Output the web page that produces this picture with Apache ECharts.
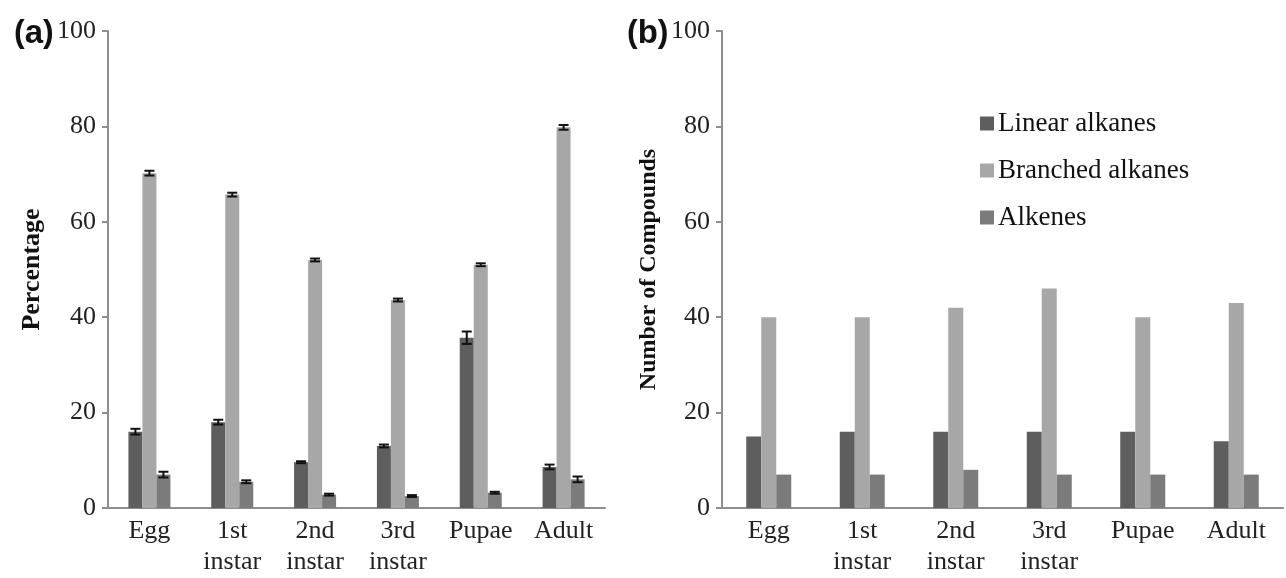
<!DOCTYPE html>
<html>
<head>
<meta charset="utf-8">
<script src="https://cdn.jsdelivr.net/npm/echarts@6/dist/echarts.min.js"></script>
<style>
  html, body { margin: 0; padding: 0; background: #fff; }
  #chart { width: 1286px; height: 578px; }
</style>
</head>
<body>
<div id="chart"></div>
<script>
// Stages and series
const stages = ["Egg", "1st\ninstar", "2nd\ninstar", "3rd\ninstar", "Pupae", "Adult"];
const seriesNames = ["Linear alkanes", "Branched alkanes", "Alkenes"];

// (a) percentage, with standard errors
const pctLinear = [16, 18, 9.6, 13, 35.7, 8.6];
const pctBranched = [70.2, 65.7, 52, 43.6, 51, 79.8];
const pctAlkenes = [7, 5.5, 2.8, 2.5, 3.2, 6];
const errLinear = [0.6, 0.5, 0.2, 0.3, 1.3, 0.5];
const errBranched = [0.5, 0.4, 0.3, 0.3, 0.3, 0.5];
const errAlkenes = [0.6, 0.3, 0.2, 0.2, 0.2, 0.6];

// (b) number of compounds
const numLinear = [15, 16, 16, 16, 16, 14];
const numBranched = [40, 40, 42, 46, 40, 43];
const numAlkenes = [7, 7, 8, 7, 7, 7];

const yTicks = [0, 20, 40, 60, 80, 100];

const colors = ["#5e5e5e", "#a7a7a7", "#7b7b7b"];
const font = "Liberation Serif";
const axisGrey = "#8e8e8e";
const barW = 14;
const barWb = 15;

function errData(vals, errs) {
  return vals.map((v, i) => [i, v - errs[i], v + errs[i]]);
}

function errSeries(vals, errs, idx) {
  return {
    type: "custom",
    xAxisIndex: 0,
    yAxisIndex: 0,
    z: 5,
    encode: { x: 0, y: [1, 2] },
    data: errData(vals, errs),
    renderItem: (params, api) => {
      const off = (idx - 1) * barW;
      const lo = api.coord([api.value(0), api.value(1)]);
      const hi = api.coord([api.value(0), api.value(2)]);
      const x = lo[0] + off;
      const cap = 5;
      const style = { stroke: "#111", lineWidth: 2 };
      return {
        type: "group",
        children: [
          { type: "line", shape: { x1: x, y1: lo[1], x2: x, y2: hi[1] }, style },
          { type: "line", shape: { x1: x - cap, y1: lo[1], x2: x + cap, y2: lo[1] }, style },
          { type: "line", shape: { x1: x - cap, y1: hi[1], x2: x + cap, y2: hi[1] }, style }
        ]
      };
    }
  };
}

function xAxisCfg(grid) {
  return {
    type: "category",
    gridIndex: grid,
    data: stages,
    axisLine: { lineStyle: { color: axisGrey, width: 2 } },
    axisTick: { show: false },
    axisLabel: { fontFamily: font, fontSize: 26, color: "#222", lineHeight: 31, margin: 8, interval: 0 }
  };
}

function yAxisCfg(grid, name, nameSize, gap) {
  return {
    type: "value",
    gridIndex: grid,
    min: 0,
    max: 100,
    interval: 20,
    name: name,
    nameLocation: "middle",
    nameGap: gap,
    nameTextStyle: { fontFamily: font, fontSize: nameSize, fontWeight: "bold", color: "#111" },
    axisLine: { show: true, lineStyle: { color: axisGrey, width: 2 } },
    axisTick: { show: true, length: 6, lineStyle: { color: axisGrey, width: 2 } },
    axisLabel: {
      fontFamily: font, fontSize: 26, color: "#222", margin: 12,
      formatter: (v) => yTicks.includes(v) ? String(v) : ""
    },
    splitLine: { show: false }
  };
}

const panelTitle = (letter, left) => ({
  text: "{p|(}{a|" + letter + "}{p|)}", left: left, top: 12,
  textStyle: {
    rich: {
      p: { fontFamily: "Liberation Sans", fontSize: 32, color: "#111" },
      a: { fontFamily: "Liberation Sans", fontWeight: "bold", fontSize: 33, color: "#111" }
    }
  }
});

const option = {
  animation: false,
  backgroundColor: "#fff",
  title: [panelTitle("a", 9), panelTitle("b", 622)],
  legend: {
    orient: "vertical",
    left: 975,
    top: 105,
    itemWidth: 14,
    itemHeight: 14,
    itemGap: 20,
    icon: "rect",
    data: seriesNames,
    textStyle: { fontFamily: font, fontSize: 27, color: "#111", padding: [0, 0, 0, -1] }
  },
  grid: [
    { left: 108, top: 31, width: 497, height: 478 },
    { left: 722, top: 31, width: 561, height: 479 }
  ],
  xAxis: [xAxisCfg(0), xAxisCfg(1)],
  yAxis: [yAxisCfg(0, "Percentage", 26, 63), yAxisCfg(1, "Number of Compounds", 24, 61)],
  series: [
    { name: seriesNames[0], type: "bar", xAxisIndex: 0, yAxisIndex: 0, data: pctLinear, barWidth: barW, barGap: "0%", itemStyle: { color: colors[0] } },
    { name: seriesNames[1], type: "bar", xAxisIndex: 0, yAxisIndex: 0, data: pctBranched, barWidth: barW, barGap: "0%", itemStyle: { color: colors[1] } },
    { name: seriesNames[2], type: "bar", xAxisIndex: 0, yAxisIndex: 0, data: pctAlkenes, barWidth: barW, barGap: "0%", itemStyle: { color: colors[2] } },
    errSeries(pctLinear, errLinear, 0),
    errSeries(pctBranched, errBranched, 1),
    errSeries(pctAlkenes, errAlkenes, 2),
    { name: seriesNames[0], type: "bar", xAxisIndex: 1, yAxisIndex: 1, data: numLinear, barWidth: barWb, barGap: "0%", itemStyle: { color: colors[0] } },
    { name: seriesNames[1], type: "bar", xAxisIndex: 1, yAxisIndex: 1, data: numBranched, barWidth: barWb, barGap: "0%", itemStyle: { color: colors[1] } },
    { name: seriesNames[2], type: "bar", xAxisIndex: 1, yAxisIndex: 1, data: numAlkenes, barWidth: barWb, barGap: "0%", itemStyle: { color: colors[2] } }
  ]
};

const chart = echarts.init(document.getElementById("chart"));
chart.setOption(option);
window.addEventListener("resize", () => chart.resize());
</script>
</body>
</html>
